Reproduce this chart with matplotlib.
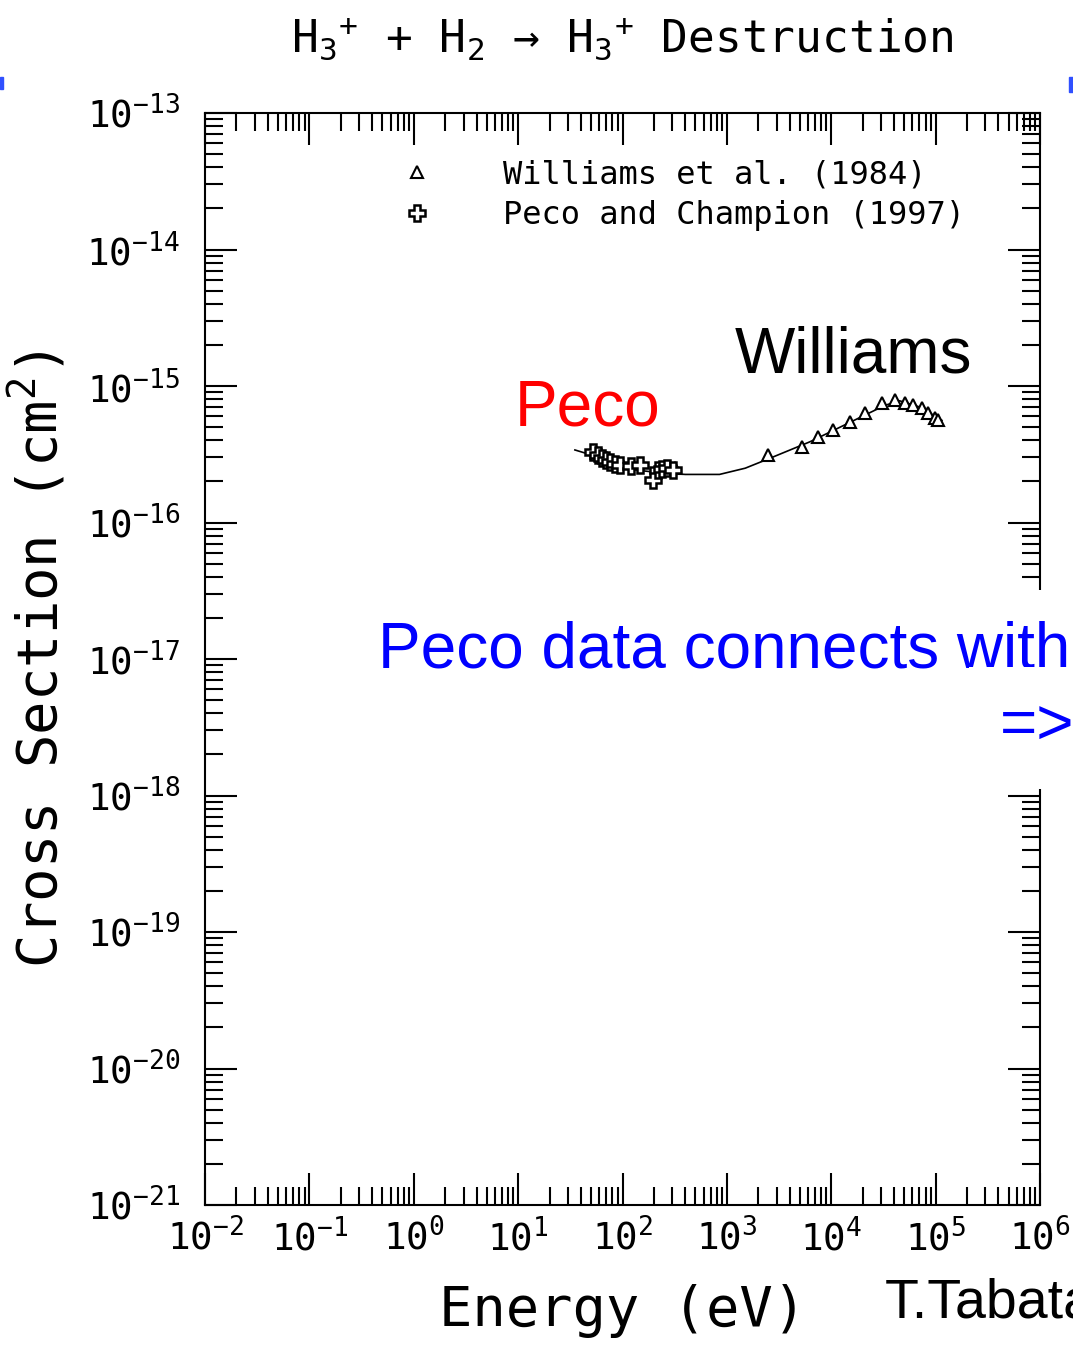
import numpy as np
import matplotlib
matplotlib.use('Agg')
import matplotlib.pyplot as plt
from matplotlib.patches import Rectangle

plt.rcParams['font.family'] = ['DejaVu Sans Mono']
plt.rcParams['mathtext.fontset'] = 'custom'
plt.rcParams['mathtext.rm'] = 'DejaVu Sans Mono'
plt.rcParams['mathtext.it'] = 'DejaVu Sans Mono'
plt.rcParams['mathtext.default'] = 'regular'

# Williams et al. (1984) - triangles
will_E = [57, 266, 318, 2470, 5230, 7440, 10400, 15100, 21000, 30500,
          40700, 50700, 60500, 73800, 84200, 98200, 105000]
will_s = [3.23e-16, 2.55e-16, 2.51e-16, 3.12e-16, 3.57e-16, 4.23e-16, 4.76e-16,
          5.45e-16, 6.34e-16, 7.5e-16, 7.9e-16, 7.5e-16, 7.26e-16, 6.9e-16,
          6.34e-16, 5.83e-16, 5.63e-16]

# Peco and Champion (1997) - crosses
peco_E = [52, 58, 64, 70, 76, 85, 94, 120, 147, 195, 218, 240, 266, 304]
peco_s = [3.28e-16, 3.1e-16, 2.97e-16, 2.85e-16, 2.78e-16, 2.7e-16, 2.64e-16,
          2.6e-16, 2.64e-16, 2.05e-16, 2.43e-16, 2.45e-16, 2.51e-16, 2.43e-16]

# fitted curve
fit_E = [35, 60, 94, 150, 250, 400, 850, 1500, 2570, 6240, 15000, 32500,
         45000, 71000, 115000]
fit_s = [3.4e-16, 3.0e-16, 2.6e-16, 2.4e-16, 2.3e-16, 2.25e-16, 2.25e-16,
         2.5e-16, 2.95e-16, 3.9e-16, 5.4e-16, 7.2e-16, 7.8e-16, 7.0e-16, 5.6e-16]

W, H = 1073, 1345
fig = plt.figure(figsize=(W/100, H/100), dpi=100)
ax = fig.add_axes([205/W, (H-1205)/H, 835/W, 1092/H])

ax.plot(fit_E, fit_s, 'k-', lw=1.2)
ax.plot(will_E, will_s, ls='none', marker='^', ms=9, mfc='white', mec='black',
        mew=1.5, label='Williams et al. (1984)')
ax.plot(peco_E, peco_s, ls='none', marker='P', ms=11, mfc='white', mec='black',
        mew=1.8, label='Peco and Champion (1997)')

ax.set_xscale('log')
ax.set_yscale('log')
ax.set_xlim(1e-2, 1e6)
ax.set_ylim(1e-21, 1e-13)
ax.set_xticks([10.0**k for k in range(-2, 7)])
ax.set_yticks([10.0**k for k in range(-21, -12)])
ax.set_xticklabels(['$10^{%d}$' % k for k in range(-2, 7)])
ax.set_yticklabels(['$10^{%d}$' % k for k in range(-21, -12)])

for s in ax.spines.values():
    s.set_linewidth(1.5)
ax.tick_params(which='both', direction='in', top=True, right=True, width=1.5,
               labelsize=27)
ax.tick_params(which='major', length=23)
ax.tick_params(which='minor', length=13)
ax.tick_params(axis='y', pad=18)
ax.tick_params(axis='x', pad=10)

ax.set_xlabel('Energy (eV)', fontsize=40, labelpad=18)
ax.set_ylabel('Cross Section (cm$^{2}$)', fontsize=40, labelpad=12)
ax.set_title('H$_{3}$$^{+}$ + H$_{2}$ \u2192 H$_{3}$$^{+}$ Destruction',
             fontsize=32, pad=44)

ax.legend(loc='upper left', bbox_to_anchor=(0.2, 0.984), frameon=False,
          fontsize=23, handlelength=1.0, handletextpad=2.2, labelspacing=0.3)

# annotations
fig.text(735/W, (H-372)/H, 'Williams', family='Liberation Sans', fontsize=46,
         color='black', va='baseline')
fig.text(515/W, (H-425)/H, 'Peco', family='Liberation Sans', fontsize=46,
         color='red', va='baseline')
fig.text(378/W, (H-668)/H, 'Peco data connects with', family='Liberation Sans',
         fontsize=46, color='blue', va='baseline',
         bbox=dict(facecolor='white', edgecolor='none', pad=22))
fig.text(1000/W, (H-745)/H, '=>', family='Liberation Sans', fontsize=46,
         color='blue', va='baseline',
         bbox=dict(facecolor='white', edgecolor='none', pad=22))
fig.text(885/W, (H-1317)/H, 'T.Tabata', family='Liberation Sans', fontsize=40,
         color='black', va='baseline')

# blue edge slivers
fig.patches.append(Rectangle((0, (H-89)/H), 3/W, 12/H, transform=fig.transFigure,
                             color='#3050ff', figure=fig))
fig.patches.append(Rectangle((1069/W, (H-92)/H), 4/W, 15/H, transform=fig.transFigure,
                             color='#3050ff', figure=fig))

fig.savefig('out.png', dpi=100)
